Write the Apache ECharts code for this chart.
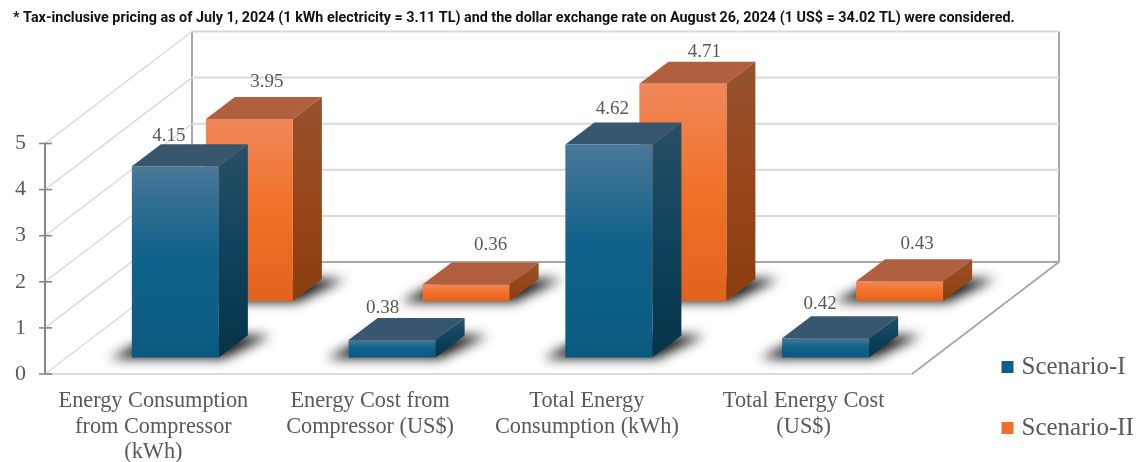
<!DOCTYPE html>
<html>
<head>
<meta charset="utf-8">
<style>html,body{margin:0;padding:0;background:#fff}#c{width:1140px;height:462px}</style>
<script src="https://cdn.jsdelivr.net/npm/echarts@6/dist/echarts.min.js"></script>
</head>
<body>
<div id="c"></div>
<script>
const note = '* Tax-inclusive pricing as of July 1, 2024 (1 kWh electricity = 3.11 TL) and the dollar exchange rate on August 26, 2024 (1 US$ = 34.02 TL) were considered.';
const categories = ['Energy Consumption\nfrom Compressor\n(kWh)', 'Energy Cost from\nCompressor (US$)', 'Total Energy\nConsumption (kWh)', 'Total Energy Cost\n(US$)'];
const scenarioI = [4.15, 0.38, 4.62, 0.42];
const scenarioII = [3.95, 0.36, 4.71, 0.43];
const yTicks = [0, 1, 2, 3, 4, 5];

// label nudges relative to the bar's top face
const labelNudgeI = [[-21, -8], [-24, -10], [-11, -14], [-20, -12]];
const labelNudgeII = [[3, -15], [10, -17], [7, -10], [3, -15]];

const WALL_X = 147, WALL_Y = 112;
const BAR_W = 87, DEPTH_X = 29, DEPTH_Y = 22;
const OFFSCREEN = 3000;
const grad = (stops, x2, y2) => ({type: 'linear', x: 0, y: 0, x2: x2 || 0, y2: y2 === undefined ? 1 : y2,
  colorStops: stops.map(s => ({offset: s[0], color: s[1]}))});

const palettes = {
  I: {
    front: grad([[0, '#4a7898'], [0.45, '#11628a'], [1, '#0a5a80']]),
    side: grad([[0, '#2a4f67'], [0.5, '#0f425c'], [1, '#063449']]),
    top: '#38566d', legend: '#0f5f85'
  },
  II: {
    front: grad([[0, '#f0875a'], [0.5, '#f27128'], [1, '#e2631e']]),
    side: grad([[0, '#96522f'], [0.5, '#98461b'], [1, '#8a3e10']]),
    top: '#b0603e', legend: '#f0702a'
  }
};

function barRenderer(palette, offX, offY, nudges) {
  return function (params, api) {
    const cat = api.value(0), val = api.value(1);
    const base = api.coord([cat, 0]);
    const head = api.coord([cat, val]);
    const cx = base[0] + offX;
    const x0 = cx - BAR_W / 2, x1 = cx + BAR_W / 2;
    const yb = base[1] - offY, yt = head[1] - offY;
    const n = nudges[params.dataIndex];
    const poly = (pts, fill) => ({type: 'polygon', shape: {points: pts}, style: {fill: fill}});
    const shadowPts = [[x0 - 22, yb + 1], [x1 + 5, yb + 1], [x1 + 52, yb - 22], [x0 + 22, yb - 22]]
      .map(p => [p[0] - OFFSCREEN, p[1]]);
    return {
      type: 'group',
      children: [
        {type: 'polygon', shape: {points: shadowPts},
          style: {fill: '#333', shadowBlur: 12, shadowColor: 'rgba(25,25,25,1)', shadowOffsetX: OFFSCREEN, shadowOffsetY: 0}},
        poly([[x0, yt], [x1, yt], [x1 + DEPTH_X, yt - DEPTH_Y], [x0 + DEPTH_X, yt - DEPTH_Y]], palette.top),
        poly([[x1, yt], [x1 + DEPTH_X, yt - DEPTH_Y], [x1 + DEPTH_X, yb - DEPTH_Y], [x1, yb]], palette.side),
        poly([[x0, yt], [x1, yt], [x1, yb], [x0, yb]], palette.front),
        {type: 'text', z2: 50,
          style: {text: val.toFixed(2), x: cx + DEPTH_X / 2 + n[0], y: yt - DEPTH_Y + n[1],
            align: 'center', verticalAlign: 'middle', fill: '#595959',
            font: '19px "Liberation Serif"'}}
      ]
    };
  };
}

function wallRenderer(params, api) {
  const v = api.value(1);
  const cs = params.coordSys;
  const p = api.coord([0, v]);
  const xL = cs.x, xR = cs.x + cs.width, y = p[1];
  const line = (a, b, c, w) => ({type: 'line', shape: {x1: a[0], y1: a[1], x2: b[0], y2: b[1]},
    style: {stroke: c, lineWidth: w}});
  const kids = [
    line([xL, y], [xL + WALL_X, y - WALL_Y], '#d9d9d9', 1.4),
    line([xL - 6, y], [xL + 7, y], '#868686', 1.6)
  ];
  if (v > 0) kids.push(line([xL + WALL_X, y - WALL_Y], [xR + WALL_X, y - WALL_Y], '#d9d9d9', 2));
  if (v === 0) {
    const top = cs.y - WALL_Y;
    kids.push(
      line([xL + WALL_X, y - WALL_Y], [xL + WALL_X, top], '#a6a6a6', 2),
      line([xR + WALL_X, y - WALL_Y], [xR + WALL_X, top], '#a6a6a6', 2),
      line([xL + WALL_X, y - WALL_Y], [xR + WALL_X, y - WALL_Y], '#a6a6a6', 2),
      line([xR, y], [xR + WALL_X, y - WALL_Y], '#a6a6a6', 1.6)
    );
  }
  return {type: 'group', children: kids};
}

const chart = echarts.init(document.getElementById('c'), null, {renderer: 'canvas'});
chart.setOption({
  animation: false,
  backgroundColor: '#fff',
  title: {
    text: note, left: 13, top: 6, padding: [5, 0, 5, 0],
    textStyle: {fontFamily: 'Roboto', fontWeight: 'bold', fontSize: 14.35, color: '#111'}
  },
  legend: {
    data: ['Scenario-I', 'Scenario-II'],
    orient: 'vertical', left: 1001.5, top: 354.5, padding: 0,
    itemWidth: 12, itemHeight: 12, itemGap: 36, icon: 'rect',
    textStyle: {fontFamily: 'Liberation Serif', fontSize: 25, color: '#595959', padding: [0, 0, 0, 3]}
  },
  grid: {left: 45, right: 228, top: 143.5, bottom: 88, containLabel: false, outerBoundsMode: 'none'},
  xAxis: {
    type: 'category', data: categories,
    axisLine: {show: true, lineStyle: {color: '#d9d9d9', width: 2}},
    axisTick: {show: false},
    axisLabel: {interval: 0, margin: 14.5, fontFamily: 'Liberation Serif', fontSize: 22.3, lineHeight: 25.5, color: '#595959'}
  },
  yAxis: {
    type: 'value', min: 0, max: 5, interval: 1,
    axisLine: {show: true, lineStyle: {color: '#868686', width: 2}},
    axisTick: {show: false},
    splitLine: {show: false},
    axisLabel: {margin: 19, fontFamily: 'Liberation Serif', fontSize: 22, color: '#595959'}
  },
  series: [
    {type: 'custom', name: 'Walls', silent: true, z: 1, renderItem: wallRenderer,
      encode: {x: 0, y: 1}, data: yTicks.map(t => [0, t])},
    {type: 'custom', name: 'Scenario-II', z: 3, itemStyle: {color: palettes.II.legend},
      renderItem: barRenderer(palettes.II, 96, 73, labelNudgeII), encode: {x: 0, y: 1},
      data: scenarioII.map((v, i) => [i, v])},
    {type: 'custom', name: 'Scenario-I', z: 4, itemStyle: {color: palettes.I.legend},
      renderItem: barRenderer(palettes.I, 22, 16.5, labelNudgeI), encode: {x: 0, y: 1},
      data: scenarioI.map((v, i) => [i, v])}
  ]
});
</script>
</body>
</html>
